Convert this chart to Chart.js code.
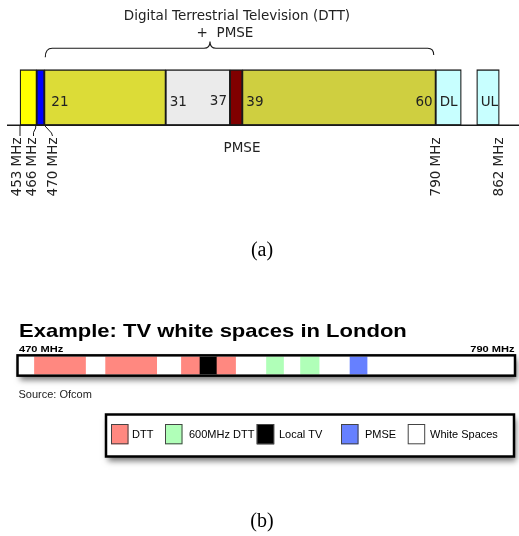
<!DOCTYPE html>
<html>
<head>
<meta charset="utf-8">
<script src="https://cdn.jsdelivr.net/npm/chart.js@4.4.0/dist/chart.umd.min.js"></script>
<style>
  html, body { margin: 0; padding: 0; background: #fff; }
  #wrap { position: relative; width: 519px; height: 536px; overflow: hidden; }
  canvas { position: absolute; left: 0; }
  #bandPlan { top: 0; }
  #londonStrip { top: 290px; }
</style>
</head>
<body>
<div id="wrap">
  <canvas id="bandPlan" width="519" height="290"></canvas>
  <canvas id="londonStrip" width="519" height="246"></canvas>
</div>
<script>
// ---- panel (a): UHF band plan (schematic, not to scale: positions along the strip) ----
const bandNames  = ['453-466 MHz', '466-470 MHz', 'Ch 21-30', 'Ch 31-37', 'Ch 38 (PMSE)', 'Ch 39-60', 'DL', 'UL'];
const bandStart  = [20, 36.7, 44.3, 165.7, 230, 242.3, 435.7, 476.7];
const bandEnd    = [36.7, 44.3, 165.7, 230, 242.3, 435.7, 461.3, 499.3];
const bandColors = ['#ffff00', '#0000ff', '#dcdc37', '#ebebeb', '#800000', '#cfcf40', '#c8ffff', '#c8ffff'];

const channelLabels = ['21', '31', '37', '39', '60', 'DL', 'UL'];
const channelAt     = [44.3, 165.7, 230, 242.3, 435.7, 435.7, 476.7];
const channelAlign  = ['left', 'left', 'right', 'left', 'right', 'left', 'left'];

const freqLabels = ['453 MHz', '466 MHz', '470 MHz', '790 MHz', '862 MHz'];
const freqAt     = [20, 36.7, 44.3, 435.7, 499.3];

// ---- panel (b): TV white spaces in London, MHz ----
const stripRange = [470, 790];
const segStart = [480, 526, 575, 587, 598, 630, 652, 684];
const segEnd   = [513, 559, 587, 598, 610, 641, 664, 695];
const segType  = ['DTT', 'DTT', 'DTT', 'Local TV', 'DTT', '600MHz DTT', '600MHz DTT', 'PMSE'];

const legendLabels = ['DTT', '600MHz DTT', 'Local TV', 'PMSE', 'White Spaces'];
const legendColors = ['#ff8880', '#b0ffb8', '#000000', '#6680ff', '#ffffff'];

const INK = '#222';

const bandPlanDecor = {
  id: 'bandPlanDecor',
  afterDatasetsDraw(chart) {
    const ctx = chart.ctx;
    const px = v => chart.scales.x.getPixelForValue(v);
    const bar = chart.getDatasetMeta(0).data[0];
    const bottom = bar.y + bar.height / 2;
    ctx.save();
    ctx.strokeStyle = '#1a1a1a';
    ctx.fillStyle = INK;

    // baseline
    ctx.lineWidth = 1.6;
    ctx.beginPath();
    ctx.moveTo(px(7), bottom);
    ctx.lineTo(chart.width, bottom);
    ctx.stroke();

    // brace over DTT + PMSE
    const l = px(bandStart[2]) + 1, r = px(bandEnd[5]) - 2, mid = 210;
    ctx.lineWidth = 1.1;
    ctx.beginPath();
    ctx.moveTo(l, 57.3);
    ctx.quadraticCurveTo(l, 48.3, l + 7, 48.3);
    ctx.lineTo(mid - 6, 48.3);
    ctx.quadraticCurveTo(mid, 48.3, mid, 41.5);
    ctx.quadraticCurveTo(mid, 48.3, mid + 6, 48.3);
    ctx.lineTo(r - 6, 48.3);
    ctx.quadraticCurveTo(r, 48.3, r, 55);
    ctx.stroke();

    ctx.font = '13.5px "DejaVu Sans"';
    ctx.textBaseline = 'alphabetic';
    ctx.textAlign = 'center';
    ctx.fillText('Digital Terrestrial Television (DTT)', 237, 19.5);
    ctx.fillText('+  PMSE', 225, 36.7);

    // channel numbers inside the boxes
    channelLabels.forEach((t, i) => {
      ctx.textAlign = channelAlign[i];
      const x = px(channelAt[i]) + (channelAlign[i] === 'left' ? 4 : -3);
      ctx.fillText(t, x + (t === '21' ? 3 : 0), t === '37' ? 104.5 : 106.3);
    });

    ctx.textAlign = 'center';
    ctx.fillText('PMSE', 242, 151.5);

    // leader lines for the lower band edges
    ctx.lineWidth = 1;
    ctx.beginPath();
    ctx.moveTo(px(freqAt[0]), bottom); ctx.lineTo(px(freqAt[0]), 136);
    ctx.moveTo(px(freqAt[1]) - 1, bottom); ctx.lineTo(px(freqAt[1]) - 1, 128); ctx.lineTo(33.5, 132.5); ctx.lineTo(33.5, 136);
    ctx.moveTo(px(freqAt[2]), bottom); ctx.lineTo(51.5, 133); ctx.lineTo(52.5, 136);
    ctx.stroke();

    // rotated frequency labels
    const textX = [17.5, 32.5, 53.5, 436, 499.5];
    freqLabels.forEach((t, i) => {
      ctx.save();
      ctx.translate(textX[i], 137.5);
      ctx.rotate(-Math.PI / 2);
      ctx.textAlign = 'right';
      ctx.textBaseline = 'middle';
      ctx.fillText(t, 0, 0);
      ctx.restore();
    });

    ctx.font = '20px "Liberation Serif"';
    ctx.textAlign = 'center';
    ctx.textBaseline = 'alphabetic';
    ctx.fillStyle = '#000';
    ctx.fillText('(a)', 262, 256);
    ctx.restore();
  }
};

new Chart(document.getElementById('bandPlan'), {
  type: 'bar',
  data: {
    labels: ['band'],
    datasets: [{
      label: 'UHF band plan',
      data: bandNames.map((n, i) => ({ x: [bandStart[i], bandEnd[i]], y: 'band' })),
      backgroundColor: bandColors,
      borderColor: '#1a1a1a',
      borderWidth: 1.3,
      borderSkipped: false,
      barThickness: 55.5
    }]
  },
  options: {
    indexAxis: 'y',
    responsive: false,
    animation: false,
    devicePixelRatio: 1,
    layout: { padding: { top: 0, bottom: 95.1, left: 0, right: 0 } },
    scales: {
      x: { type: 'linear', min: 0, max: 519, display: false },
      y: { display: false }
    },
    plugins: { legend: { display: false }, tooltip: { enabled: false } }
  },
  plugins: [bandPlanDecor]
});

// ---- panel (b) ----
const typeColor = t => legendColors[legendLabels.indexOf(t)];

const stripDecor = {
  id: 'stripDecor',
  beforeDatasetsDraw(chart) {
    const ctx = chart.ctx;
    const px = v => chart.scales.x.getPixelForValue(v);
    const bar = chart.getDatasetMeta(0).data[0];
    const top = bar.y - bar.height / 2, bottom = bar.y + bar.height / 2;
    const l = px(stripRange[0]) - 1.5, r = px(stripRange[1]) + 1;
    ctx.save();
    ctx.shadowColor = 'rgba(0,0,0,0.55)';
    ctx.shadowBlur = 6;
    ctx.shadowOffsetX = 2;
    ctx.shadowOffsetY = 4;
    ctx.fillStyle = '#fff';
    ctx.fillRect(l, top - 1.5, r - l, bottom - top + 3);
    // legend box
    ctx.fillRect(106, 124.5, 408, 42);
    ctx.restore();
  },
  afterDatasetsDraw(chart) {
    const ctx = chart.ctx;
    const px = v => chart.scales.x.getPixelForValue(v);
    const bar = chart.getDatasetMeta(0).data[0];
    const top = bar.y - bar.height / 2, bottom = bar.y + bar.height / 2;
    const l = px(stripRange[0]) - 1.5, r = px(stripRange[1]) + 1;
    ctx.save();
    ctx.strokeStyle = '#000';
    ctx.lineWidth = 2.5;
    ctx.strokeRect(l, top - 1.5, r - l, bottom - top + 3);
    ctx.strokeRect(106, 124.5, 408, 42);

    ctx.fillStyle = '#000';
    ctx.textBaseline = 'alphabetic';
    // title (source artwork is stretched horizontally)
    ctx.save();
    ctx.translate(19, 46.7);
    ctx.scale(1.19, 1);
    ctx.font = 'bold 18.5px "Liberation Sans"';
    ctx.fillText('Example: TV white spaces in London', 0, 0);
    ctx.restore();

    ctx.save();
    ctx.translate(19, 61.7);
    ctx.scale(1.19, 1);
    ctx.font = 'bold 9.3px "Liberation Sans"';
    ctx.fillText(stripRange[0] + ' MHz', 0, 0);
    ctx.restore();
    ctx.save();
    ctx.translate(514.5, 61.7);
    ctx.scale(1.19, 1);
    ctx.font = 'bold 9.3px "Liberation Sans"';
    ctx.textAlign = 'right';
    ctx.fillText(stripRange[1] + ' MHz', 0, 0);
    ctx.restore();

    ctx.fillStyle = INK;
    ctx.font = '11px "Liberation Sans"';
    ctx.fillText('Source: Ofcom', 18.5, 107.7);

    // legend entries
    const swatchX = [111, 165, 256.7, 341, 407.7];
    const labelX  = [132, 189, 279, 365, 430];
    legendLabels.forEach((t, i) => {
      ctx.fillStyle = legendColors[i];
      ctx.fillRect(swatchX[i], 134, 17.5, 20.3);
      ctx.strokeStyle = '#444';
      ctx.lineWidth = 1;
      ctx.strokeRect(swatchX[i] + 0.5, 134.5, 16.5, 19.3);
      ctx.fillStyle = '#000';
      ctx.fillText(t, labelX[i], 148.3);
    });

    ctx.font = '20px "Liberation Serif"';
    ctx.textAlign = 'center';
    ctx.fillText('(b)', 262, 236.5);
    ctx.restore();
  }
};

new Chart(document.getElementById('londonStrip'), {
  type: 'bar',
  data: {
    labels: ['strip'],
    datasets: [{
      label: 'London spectrum use',
      data: [{ x: stripRange, y: 'strip' }]
        .concat(segStart.map((s, i) => ({ x: [s, segEnd[i]], y: 'strip' }))),
      backgroundColor: ['White Spaces'].concat(segType).map(typeColor),
      borderWidth: 0,
      barThickness: 17.3
    }]
  },
  options: {
    indexAxis: 'y',
    responsive: false,
    animation: false,
    devicePixelRatio: 1,
    layout: { padding: { top: 0, bottom: 95, left: 19, right: 5 } },
    scales: {
      x: { type: 'linear', min: stripRange[0], max: stripRange[1], display: false },
      y: { display: false }
    },
    plugins: { legend: { display: false }, tooltip: { enabled: false } }
  },
  plugins: [stripDecor]
});
</script>
</body>
</html>
